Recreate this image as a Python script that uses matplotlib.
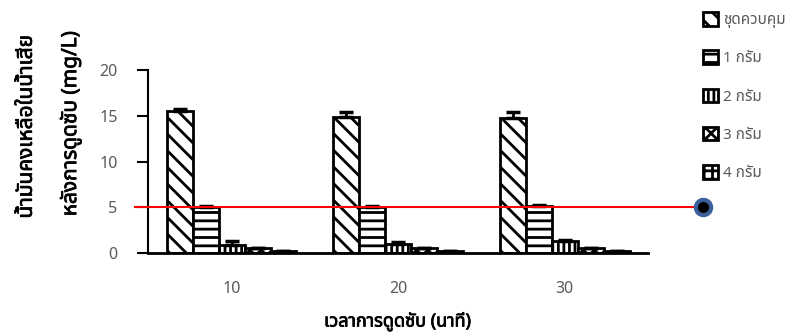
import matplotlib.pyplot as plt
import matplotlib.patheffects as pe
from matplotlib.patches import Patch
from matplotlib.lines import Line2D
import numpy as np

plt.rcParams['font.family'] = ['Noto Sans Thai', 'Loma', 'Garuda', 'Tlwg Typo', 'DejaVu Sans']
plt.rcParams['hatch.linewidth'] = 2.0

# data
times = ['10', '20', '30']
series = ['ชุดควบคุม', '1 กรัม', '2 กรัม', '3 กรัม', '4 กรัม']
values = [
    [15.5, 14.9, 14.8],
    [5.0, 5.0, 5.1],
    [0.9, 1.0, 1.3],
    [0.5, 0.5, 0.5],
    [0.2, 0.2, 0.2],
]
errors = [
    [0.3, 0.5, 0.6],
    [0.1, 0.1, 0.1],
    [0.4, 0.2, 0.1],
    [0.1, 0.1, 0.1],
    [0.05, 0.05, 0.05],
]
hatches = ['\\\\', '--', '|||', 'xxx', '++']
limit_value = 5

# fake bold, the Thai font only has a regular face here
bold = [pe.withStroke(linewidth=0.55, foreground='black')]

fig = plt.figure(figsize=(7.97, 3.34), dpi=100)
ax = fig.add_axes([0.186, 0.2425, 0.627, 0.5475])

x = np.arange(len(times))
w = 0.156
for i, name in enumerate(series):
    pos = x - 2 * w + i * w
    ax.bar(pos, values[i], w, facecolor='white', edgecolor='black', linewidth=2,
           hatch=hatches[i], label=name)
    ax.errorbar(pos, values[i], yerr=[np.zeros(3), errors[i]], fmt='none',
                ecolor='black', elinewidth=2, capsize=5, capthick=2.5)

ax.set_xlim(-0.5, 2.5)
ax.set_ylim(0, 20)
ax.set_yticks([0, 5, 10, 15, 20])
ax.set_xticks(x)
ax.set_xticklabels(times)
ax.tick_params(axis='x', length=0, pad=20, labelsize=11.5, labelcolor='#595959')
ax.tick_params(axis='y', length=8, width=1.5, direction='out', pad=14,
               labelsize=11.5, labelcolor='#595959')
for s in ['top', 'right']:
    ax.spines[s].set_visible(False)
ax.spines['left'].set_linewidth(1.5)
ax.spines['bottom'].set_linewidth(2)

ax.set_xlabel('เวลาการดูดซับ (นาที)', fontsize=13, labelpad=11, path_effects=bold)
fig.text(0.033, 0.62, 'น้ำมันคงเหลือในน้ำเสีย', rotation=90, ha='center', va='center',
         fontsize=15, path_effects=bold)
fig.text(0.088, 0.63, 'หลังการดูดซับ (mg/L)', rotation=90, ha='center', va='center',
         fontsize=15, path_effects=bold)

# limit line across to the legend marker
line_y = ax.transData.transform((0, limit_value))[1] / fig.bbox.height
fig.add_artist(Line2D([0.17, 0.882], [line_y, line_y], color='red', linewidth=1.5))
fig.add_artist(Line2D([0.882], [line_y], marker='o', markersize=11,
                      markerfacecolor='black', markeredgecolor='#3b5f9a',
                      markeredgewidth=3))

handles = [Patch(facecolor='white', edgecolor='black', linewidth=2, hatch=h) for h in hatches]
leg = fig.legend(handles, series, loc='upper left', bbox_to_anchor=(0.865, 1.005),
                 frameon=False, fontsize=11, labelspacing=1.45, handlelength=1.0,
                 handleheight=1.0, handletextpad=0.3, labelcolor='#595959')

fig.savefig('out.png', dpi=100)
